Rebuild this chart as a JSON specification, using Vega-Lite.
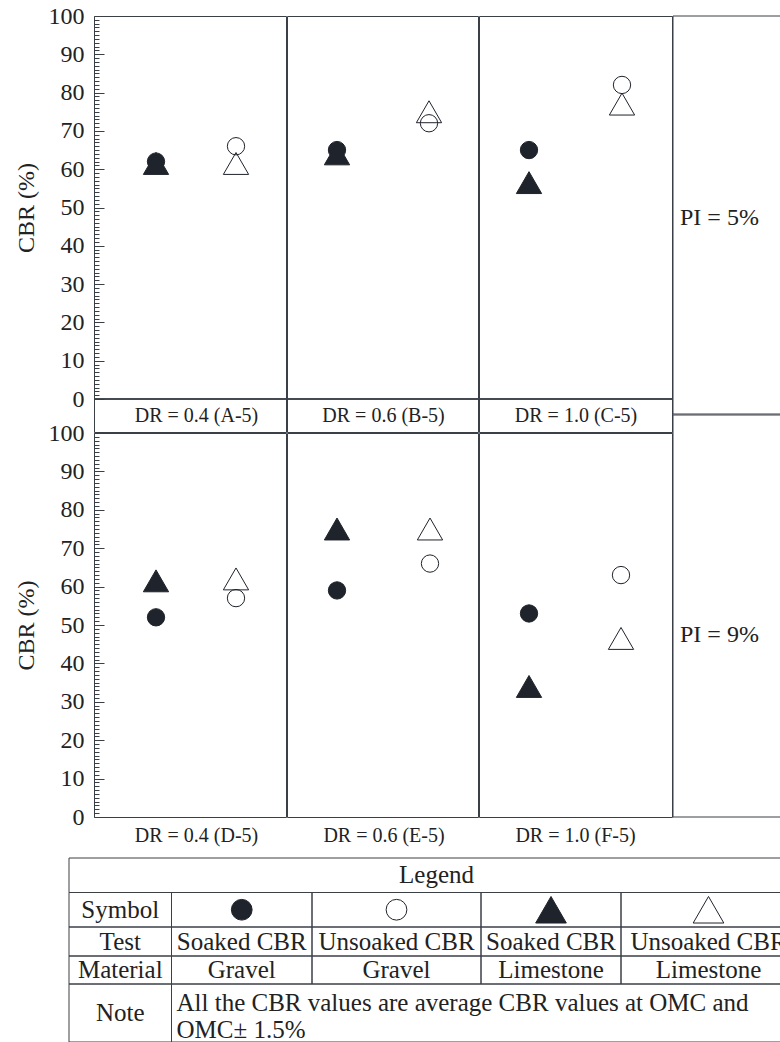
{
  "$schema": "https://vega.github.io/schema/vega-lite/v6.json",
  "background": "white",
  "padding": {"left": 13, "top": 3, "right": 0, "bottom": 0},
  "datasets": {
    "cbr": [
      {"panel": "A", "test": "Soaked CBR", "material": "Gravel", "cbr": 62},
      {"panel": "A", "test": "Soaked CBR", "material": "Limestone", "cbr": 61.5},
      {"panel": "A", "test": "Unsoaked CBR", "material": "Gravel", "cbr": 66},
      {"panel": "A", "test": "Unsoaked CBR", "material": "Limestone", "cbr": 61.5},
      {"panel": "B", "test": "Soaked CBR", "material": "Gravel", "cbr": 65},
      {"panel": "B", "test": "Soaked CBR", "material": "Limestone", "cbr": 64},
      {"panel": "B", "test": "Unsoaked CBR", "material": "Gravel", "cbr": 72},
      {"panel": "B", "test": "Unsoaked CBR", "material": "Limestone", "cbr": 75},
      {"panel": "C", "test": "Soaked CBR", "material": "Gravel", "cbr": 65},
      {"panel": "C", "test": "Soaked CBR", "material": "Limestone", "cbr": 56.5},
      {"panel": "C", "test": "Unsoaked CBR", "material": "Gravel", "cbr": 82},
      {"panel": "C", "test": "Unsoaked CBR", "material": "Limestone", "cbr": 77},
      {"panel": "D", "test": "Soaked CBR", "material": "Gravel", "cbr": 52},
      {"panel": "D", "test": "Soaked CBR", "material": "Limestone", "cbr": 61.5},
      {"panel": "D", "test": "Unsoaked CBR", "material": "Gravel", "cbr": 57},
      {"panel": "D", "test": "Unsoaked CBR", "material": "Limestone", "cbr": 62},
      {"panel": "E", "test": "Soaked CBR", "material": "Gravel", "cbr": 59},
      {"panel": "E", "test": "Soaked CBR", "material": "Limestone", "cbr": 75},
      {"panel": "E", "test": "Unsoaked CBR", "material": "Gravel", "cbr": 66},
      {"panel": "E", "test": "Unsoaked CBR", "material": "Limestone", "cbr": 75},
      {"panel": "F", "test": "Soaked CBR", "material": "Gravel", "cbr": 53},
      {"panel": "F", "test": "Soaked CBR", "material": "Limestone", "cbr": 34},
      {"panel": "F", "test": "Unsoaked CBR", "material": "Gravel", "cbr": 63},
      {"panel": "F", "test": "Unsoaked CBR", "material": "Limestone", "cbr": 46.5}
    ],
    "pi": [
      {"row": "top", "label": "PI = 5%"},
      {"row": "bottom", "label": "PI = 9%"}
    ],
    "grid": [
      {"c0": 0, "c1": 5, "r0": 0, "r1": 1},
      {"c0": 0, "c1": 1, "r0": 1, "r1": 2}, {"c0": 1, "c1": 2, "r0": 1, "r1": 2}, {"c0": 2, "c1": 3, "r0": 1, "r1": 2}, {"c0": 3, "c1": 4, "r0": 1, "r1": 2}, {"c0": 4, "c1": 5, "r0": 1, "r1": 2},
      {"c0": 0, "c1": 1, "r0": 2, "r1": 3}, {"c0": 1, "c1": 2, "r0": 2, "r1": 3}, {"c0": 2, "c1": 3, "r0": 2, "r1": 3}, {"c0": 3, "c1": 4, "r0": 2, "r1": 3}, {"c0": 4, "c1": 5, "r0": 2, "r1": 3},
      {"c0": 0, "c1": 1, "r0": 3, "r1": 4}, {"c0": 1, "c1": 2, "r0": 3, "r1": 4}, {"c0": 2, "c1": 3, "r0": 3, "r1": 4}, {"c0": 3, "c1": 4, "r0": 3, "r1": 4}, {"c0": 4, "c1": 5, "r0": 3, "r1": 4},
      {"c0": 0, "c1": 1, "r0": 4, "r1": 5}, {"c0": 1, "c1": 5, "r0": 4, "r1": 5}
    ],
    "legendItems": [
      {"slot": 1.5, "test": "Soaked CBR", "material": "Gravel"},
      {"slot": 2.5, "test": "Unsoaked CBR", "material": "Gravel"},
      {"slot": 3.5, "test": "Soaked CBR", "material": "Limestone"},
      {"slot": 4.5, "test": "Unsoaked CBR", "material": "Limestone"}
    ],
    "rowLabels": [
      {"label": "Symbol", "row": 1.5},
      {"label": "Test", "row": 2.5},
      {"label": "Material", "row": 3.5},
      {"label": "Note", "row": 4.5}
    ],
    "tableTitle": [{"label": "Legend"}],
    "note": [{"text": ["All the CBR values are average CBR values at OMC and", "OMC\u00b1 1.5%"]}]
  },
  "vconcat": [
    {
      "hconcat": [
        {
          "vconcat": [
            {
              "hconcat": [
                {
                  "width": 192, "height": 416,
                  "data": {"name": "cbr"},
                  "transform": [{"filter": "datum.panel === 'A'"}],
                  "encoding": {
                    "x": {"field": "test", "type": "nominal", "scale": {"type": "point", "domain": ["Soaked CBR", "Unsoaked CBR"], "range": [62, 142], "padding": 0},
                      "axis": {"title": "DR = 0.4 (A-5)", "labels": false, "ticks": false, "domain": false, "grid": false, "titleY": -16.5, "titleBaseline": "middle", "titleFont": "Liberation Serif, DejaVu Serif, serif", "titleFontSize": 20, "titleFontWeight": "normal", "titleColor": "#222"}},
                    "y": {"field": "cbr", "type": "quantitative", "scale": {"domain": [-8.616, 100], "nice": false, "zero": false},
                      "axis": {"title": "CBR (%)", "values": [0,1,2,3,4,5,6,7,8,9,10,11,12,13,14,15,16,17,18,19,20,21,22,23,24,25,26,27,28,29,30,31,32,33,34,35,36,37,38,39,40,41,42,43,44,45,46,47,48,49,50,51,52,53,54,55,56,57,58,59,60,61,62,63,64,65,66,67,68,69,70,71,72,73,74,75,76,77,78,79,80,81,82,83,84,85,86,87,88,89,90,91,92,93,94,95,96,97,98,99,100],
                        "labelExpr": "datum.value % 10 === 0 ? datum.label : ''", "labelOverlap": false, "labelFont": "Liberation Serif, DejaVu Serif, serif", "labelFontSize": 24, "labelColor": "#222", "labelPadding": 20,
                        "tickSize": {"condition": {"test": "datum.value % 10 === 0", "value": -10}, "value": -5}, "tickColor": "#3b3f46", "domain": false, "grid": false,
                        "titleFont": "Liberation Serif, DejaVu Serif, serif", "titleFontSize": 24, "titleFontWeight": "normal", "titleColor": "#222", "titlePadding": 10, "titleY": 191.5}},
                    "fill": {"field": "test", "type": "nominal", "scale": {"domain": ["Soaked CBR", "Unsoaked CBR"], "range": ["#1f232b", "transparent"]}, "legend": null}
                  },
                  "layer": [
                    {"mark": {"type": "rule", "color": "#3b3f46", "strokeWidth": 1}, "encoding": {"x": {"value": 0}, "x2": {"value": 192}, "y": {"datum": 0}}},
                    {"transform": [{"filter": "datum.material === 'Gravel'"}], "mark": {"type": "point", "shape": "circle", "size": 300, "stroke": "#1f232b", "strokeWidth": 1, "opacity": 1}},
                    {"transform": [{"filter": "datum.material === 'Limestone'"}], "mark": {"type": "point", "shape": "triangle-up", "size": 640, "stroke": "#1f232b", "strokeWidth": 1, "opacity": 1}}
                  ]
                },
                {
                  "width": 191, "height": 416,
                  "data": {"name": "cbr"},
                  "transform": [{"filter": "datum.panel === 'B'"}],
                  "encoding": {
                    "x": {"field": "test", "type": "nominal", "scale": {"type": "point", "domain": ["Soaked CBR", "Unsoaked CBR"], "range": [50, 142], "padding": 0},
                      "axis": {"title": "DR = 0.6 (B-5)", "labels": false, "ticks": false, "domain": false, "grid": false, "titleY": -16.5, "titleBaseline": "middle", "titleFont": "Liberation Serif, DejaVu Serif, serif", "titleFontSize": 20, "titleFontWeight": "normal", "titleColor": "#222"}},
                    "y": {"field": "cbr", "type": "quantitative", "scale": {"domain": [-8.616, 100], "nice": false, "zero": false}, "axis": null},
                    "fill": {"field": "test", "type": "nominal", "scale": {"domain": ["Soaked CBR", "Unsoaked CBR"], "range": ["#1f232b", "transparent"]}, "legend": null}
                  },
                  "layer": [
                    {"mark": {"type": "rule", "color": "#3b3f46", "strokeWidth": 1}, "encoding": {"x": {"value": 0}, "x2": {"value": 191}, "y": {"datum": 0}}},
                    {"transform": [{"filter": "datum.material === 'Gravel'"}], "mark": {"type": "point", "shape": "circle", "size": 300, "stroke": "#1f232b", "strokeWidth": 1, "opacity": 1}},
                    {"transform": [{"filter": "datum.material === 'Limestone'"}], "mark": {"type": "point", "shape": "triangle-up", "size": 640, "stroke": "#1f232b", "strokeWidth": 1, "opacity": 1}}
                  ]
                },
                {
                  "width": 193, "height": 416,
                  "data": {"name": "cbr"},
                  "transform": [{"filter": "datum.panel === 'C'"}],
                  "encoding": {
                    "x": {"field": "test", "type": "nominal", "scale": {"type": "point", "domain": ["Soaked CBR", "Unsoaked CBR"], "range": [50, 143], "padding": 0},
                      "axis": {"title": "DR = 1.0 (C-5)", "labels": false, "ticks": false, "domain": false, "grid": false, "titleY": -16.5, "titleBaseline": "middle", "titleFont": "Liberation Serif, DejaVu Serif, serif", "titleFontSize": 20, "titleFontWeight": "normal", "titleColor": "#222"}},
                    "y": {"field": "cbr", "type": "quantitative", "scale": {"domain": [-8.616, 100], "nice": false, "zero": false}, "axis": null},
                    "fill": {"field": "test", "type": "nominal", "scale": {"domain": ["Soaked CBR", "Unsoaked CBR"], "range": ["#1f232b", "transparent"]}, "legend": null}
                  },
                  "layer": [
                    {"mark": {"type": "rule", "color": "#3b3f46", "strokeWidth": 1}, "encoding": {"x": {"value": 0}, "x2": {"value": 193}, "y": {"datum": 0}}},
                    {"transform": [{"filter": "datum.material === 'Gravel'"}], "mark": {"type": "point", "shape": "circle", "size": 300, "stroke": "#1f232b", "strokeWidth": 1, "opacity": 1}},
                    {"transform": [{"filter": "datum.material === 'Limestone'"}], "mark": {"type": "point", "shape": "triangle-up", "size": 640, "stroke": "#1f232b", "strokeWidth": 1, "opacity": 1}}
                  ]
                }
              ],
              "spacing": -2
            },
            {
              "hconcat": [
                {
                  "width": 192, "height": 384,
                  "data": {"name": "cbr"},
                  "transform": [{"filter": "datum.panel === 'D'"}],
                  "encoding": {
                    "x": {"field": "test", "type": "nominal", "scale": {"type": "point", "domain": ["Soaked CBR", "Unsoaked CBR"], "range": [62, 142], "padding": 0},
                      "axis": {"title": "DR = 0.4 (D-5)", "labels": false, "ticks": false, "domain": false, "grid": false, "titleFont": "Liberation Serif, DejaVu Serif, serif", "titleFontSize": 20, "titleFontWeight": "normal", "titleColor": "#222", "titlePadding": 8}},
                    "y": {"field": "cbr", "type": "quantitative", "scale": {"domain": [0, 100], "nice": false},
                      "axis": {"title": "CBR (%)", "values": [0,1,2,3,4,5,6,7,8,9,10,11,12,13,14,15,16,17,18,19,20,21,22,23,24,25,26,27,28,29,30,31,32,33,34,35,36,37,38,39,40,41,42,43,44,45,46,47,48,49,50,51,52,53,54,55,56,57,58,59,60,61,62,63,64,65,66,67,68,69,70,71,72,73,74,75,76,77,78,79,80,81,82,83,84,85,86,87,88,89,90,91,92,93,94,95,96,97,98,99,100],
                        "labelExpr": "datum.value % 10 === 0 ? datum.label : ''", "labelOverlap": false, "labelFont": "Liberation Serif, DejaVu Serif, serif", "labelFontSize": 24, "labelColor": "#222", "labelPadding": 20,
                        "tickSize": {"condition": {"test": "datum.value % 10 === 0", "value": -10}, "value": -5}, "tickColor": "#3b3f46", "domain": false, "grid": false,
                        "titleFont": "Liberation Serif, DejaVu Serif, serif", "titleFontSize": 24, "titleFontWeight": "normal", "titleColor": "#222", "titlePadding": 10}},
                    "fill": {"field": "test", "type": "nominal", "scale": {"domain": ["Soaked CBR", "Unsoaked CBR"], "range": ["#1f232b", "transparent"]}, "legend": null}
                  },
                  "layer": [
                    {"transform": [{"filter": "datum.material === 'Gravel'"}], "mark": {"type": "point", "shape": "circle", "size": 300, "stroke": "#1f232b", "strokeWidth": 1, "opacity": 1}},
                    {"transform": [{"filter": "datum.material === 'Limestone'"}], "mark": {"type": "point", "shape": "triangle-up", "size": 640, "stroke": "#1f232b", "strokeWidth": 1, "opacity": 1}}
                  ]
                },
                {
                  "width": 191, "height": 384,
                  "data": {"name": "cbr"},
                  "transform": [{"filter": "datum.panel === 'E'"}],
                  "encoding": {
                    "x": {"field": "test", "type": "nominal", "scale": {"type": "point", "domain": ["Soaked CBR", "Unsoaked CBR"], "range": [50, 143], "padding": 0},
                      "axis": {"title": "DR = 0.6 (E-5)", "labels": false, "ticks": false, "domain": false, "grid": false, "titleFont": "Liberation Serif, DejaVu Serif, serif", "titleFontSize": 20, "titleFontWeight": "normal", "titleColor": "#222", "titlePadding": 8}},
                    "y": {"field": "cbr", "type": "quantitative", "scale": {"domain": [0, 100], "nice": false}, "axis": null},
                    "fill": {"field": "test", "type": "nominal", "scale": {"domain": ["Soaked CBR", "Unsoaked CBR"], "range": ["#1f232b", "transparent"]}, "legend": null}
                  },
                  "layer": [
                    {"transform": [{"filter": "datum.material === 'Gravel'"}], "mark": {"type": "point", "shape": "circle", "size": 300, "stroke": "#1f232b", "strokeWidth": 1, "opacity": 1}},
                    {"transform": [{"filter": "datum.material === 'Limestone'"}], "mark": {"type": "point", "shape": "triangle-up", "size": 640, "stroke": "#1f232b", "strokeWidth": 1, "opacity": 1}}
                  ]
                },
                {
                  "width": 193, "height": 384,
                  "data": {"name": "cbr"},
                  "transform": [{"filter": "datum.panel === 'F'"}],
                  "encoding": {
                    "x": {"field": "test", "type": "nominal", "scale": {"type": "point", "domain": ["Soaked CBR", "Unsoaked CBR"], "range": [50, 142], "padding": 0},
                      "axis": {"title": "DR = 1.0 (F-5)", "labels": false, "ticks": false, "domain": false, "grid": false, "titleFont": "Liberation Serif, DejaVu Serif, serif", "titleFontSize": 20, "titleFontWeight": "normal", "titleColor": "#222", "titlePadding": 8}},
                    "y": {"field": "cbr", "type": "quantitative", "scale": {"domain": [0, 100], "nice": false}, "axis": null},
                    "fill": {"field": "test", "type": "nominal", "scale": {"domain": ["Soaked CBR", "Unsoaked CBR"], "range": ["#1f232b", "transparent"]}, "legend": null}
                  },
                  "layer": [
                    {"transform": [{"filter": "datum.material === 'Gravel'"}], "mark": {"type": "point", "shape": "circle", "size": 300, "stroke": "#1f232b", "strokeWidth": 1, "opacity": 1}},
                    {"transform": [{"filter": "datum.material === 'Limestone'"}], "mark": {"type": "point", "shape": "triangle-up", "size": 640, "stroke": "#1f232b", "strokeWidth": 1, "opacity": 1}}
                  ]
                }
              ],
              "spacing": -2
            }
          ],
          "spacing": -14
        },
        {
          "vconcat": [
            {"width": 110, "height": 398, "data": {"name": "pi"}, "transform": [{"filter": "datum.row === 'top'"}],
             "layer": [
               {"mark": {"type": "rect", "fill": "white", "fillOpacity": 0, "stroke": "#3b3f46", "strokeWidth": 1}, "encoding": {}},
               {"mark": {"type": "text", "font": "Liberation Serif, DejaVu Serif, serif", "fontSize": 24, "color": "#222", "align": "left", "dx": -48, "dy": 3}, "encoding": {"text": {"field": "label"}}}
             ]},
            {"width": 110, "height": 402, "data": {"name": "pi"}, "transform": [{"filter": "datum.row === 'bottom'"}],
             "layer": [
               {"mark": {"type": "rect", "fill": "white", "fillOpacity": 0, "stroke": "#3b3f46", "strokeWidth": 1}, "encoding": {}},
               {"mark": {"type": "text", "font": "Liberation Serif, DejaVu Serif, serif", "fontSize": 24, "color": "#222", "align": "left", "dx": -48, "dy": 19}, "encoding": {"text": {"field": "label"}}}
             ]}
          ],
          "spacing": -2
        }
      ],
      "spacing": -2
    },
    {
      "width": 685, "height": 184,
      "view": {"stroke": null},
      "layer": [
        {
          "data": {"name": "grid"},
          "mark": {"type": "rect", "fill": "white", "fillOpacity": 0, "stroke": "#3b3f46", "strokeWidth": 1},
          "encoding": {
            "x": {"field": "c0", "type": "quantitative", "scale": {"domain": [0, 1, 2, 3, 4, 5], "range": [-25, 77.5, 218, 387, 527, 702]}, "axis": null},
            "x2": {"field": "c1"},
            "y": {"field": "r0", "type": "quantitative", "scale": {"domain": [0, 1, 2, 3, 4, 5], "range": [0, 34.5, 69, 98, 126, 184]}, "axis": null},
            "y2": {"field": "r1"}
          }
        },
        {
          "data": {"name": "tableTitle"},
          "mark": {"type": "text", "font": "Liberation Serif, DejaVu Serif, serif", "fontSize": 25, "color": "#222"},
          "encoding": {"y": {"datum": 0.5, "type": "quantitative"}, "text": {"field": "label"}}
        },
        {
          "data": {"name": "rowLabels"},
          "mark": {"type": "text", "font": "Liberation Serif, DejaVu Serif, serif", "fontSize": 25, "color": "#222"},
          "encoding": {"x": {"datum": 0.5, "type": "quantitative"}, "y": {"field": "row", "type": "quantitative"}, "text": {"field": "label"}}
        },
        {
          "data": {"name": "legendItems"},
          "transform": [{"filter": "datum.material === 'Gravel'"}],
          "mark": {"type": "point", "shape": "circle", "size": 430, "stroke": "#1f232b", "strokeWidth": 1, "opacity": 1},
          "encoding": {
            "x": {"field": "slot", "type": "quantitative"},
            "y": {"datum": 1.5, "type": "quantitative"},
            "fill": {"field": "test", "type": "nominal", "scale": {"domain": ["Soaked CBR", "Unsoaked CBR"], "range": ["#1f232b", "transparent"]}, "legend": null}
          }
        },
        {
          "data": {"name": "legendItems"},
          "transform": [{"filter": "datum.material === 'Limestone'"}],
          "mark": {"type": "point", "shape": "triangle-up", "size": 940, "stroke": "#1f232b", "strokeWidth": 1, "opacity": 1},
          "encoding": {
            "x": {"field": "slot", "type": "quantitative"},
            "y": {"datum": 1.5, "type": "quantitative"},
            "fill": {"field": "test", "type": "nominal", "scale": {"domain": ["Soaked CBR", "Unsoaked CBR"], "range": ["#1f232b", "transparent"]}, "legend": null}
          }
        },
        {
          "data": {"name": "legendItems"},
          "mark": {"type": "text", "font": "Liberation Serif, DejaVu Serif, serif", "fontSize": 25, "color": "#222"},
          "encoding": {"x": {"field": "slot", "type": "quantitative"}, "y": {"datum": 2.5, "type": "quantitative"}, "text": {"field": "test"}}
        },
        {
          "data": {"name": "legendItems"},
          "mark": {"type": "text", "font": "Liberation Serif, DejaVu Serif, serif", "fontSize": 25, "color": "#222"},
          "encoding": {"x": {"field": "slot", "type": "quantitative"}, "y": {"datum": 3.5, "type": "quantitative"}, "text": {"field": "material"}}
        },
        {
          "data": {"name": "note"},
          "mark": {"type": "text", "font": "Liberation Serif, DejaVu Serif, serif", "fontSize": 25, "color": "#222", "align": "left", "dx": 5, "dy": -10, "lineHeight": 27},
          "encoding": {"x": {"datum": 1, "type": "quantitative"}, "y": {"datum": 4.5, "type": "quantitative"}, "text": {"field": "text"}}
        }
      ]
    }
  ],
  "spacing": 11,
  "config": {
    "font": "Liberation Serif, DejaVu Serif, serif",
    "view": {"stroke": "#3b3f46", "strokeWidth": 1},
    "concat": {"spacing": 0}
  }
}
